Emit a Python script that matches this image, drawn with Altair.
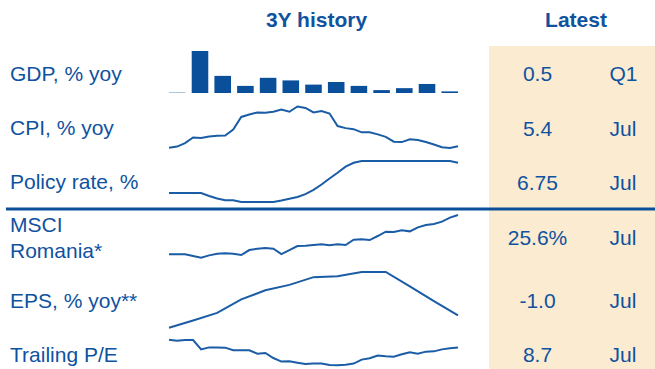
import altair as alt
import pandas as pd

# ---------------- data ----------------
HEADERS = ["3Y history", "Latest"]
ROW_LABELS = ["GDP, % yoy", "CPI, % yoy", "Policy rate, %", "MSCI\nRomania*",
              "EPS, % yoy**", "Trailing P/E"]
LATEST_VALUES = ["0.5", "5.4", "6.75", "25.6%", "-1.0", "8.7"]
LATEST_PERIODS = ["Q1", "Jul", "Jul", "Jul", "Jul", "Jul"]

GDP_QUARTERS = ["Q1 21", "Q2 21", "Q3 21", "Q4 21", "Q1 22", "Q2 22", "Q3 22",
                "Q4 22", "Q1 23", "Q2 23", "Q3 23", "Q4 23", "Q1 24"]
GDP_YOY = [0.1, 13.0, 5.3, 2.2, 4.7, 3.9, 2.6, 3.4, 2.2, 0.9, 1.5, 2.8, 0.5]

MONTHS = [str(p) for p in pd.period_range("2021-07", "2024-07", freq="M")]

CPI_YOY = [5.0, 5.3, 6.3, 7.9, 7.8, 8.2, 8.4, 8.5, 10.2, 13.8, 14.5, 15.1, 15.0,
           15.3, 15.9, 15.3, 16.8, 16.4, 15.1, 15.5, 14.8, 11.2, 10.6, 10.3, 9.4,
           9.4, 8.8, 8.1, 6.7, 6.6, 7.4, 7.2, 6.6, 5.9, 5.1, 4.9, 5.4]

POLICY_RATE = [2.5, 2.5, 2.5, 2.5, 2.5, 2.1, 1.75, 1.5, 1.5, 1.25, 1.25, 1.25,
               1.25, 1.25, 1.45, 1.7, 1.95, 2.35, 2.95, 3.7, 4.55, 5.35, 6.2,
               6.75, 7.0, 7.0, 7.0, 7.0, 7.0, 7.0, 7.0, 7.0, 7.0, 7.0, 7.0, 7.0,
               6.75]

MSCI_INDEX = [52, 52, 52, 47, 42, 49, 54, 55, 54, 50, 65, 69, 71, 69, 53, 65, 77,
              78, 80, 82, 79, 82, 80, 96, 97, 95, 107, 120, 119, 124, 121, 133,
              140, 143, 150, 162, 170]

EPS_QUARTERS = MONTHS[::3]
EPS_YOY = [-5.3, -2.8, -0.1, 4.6, 7.8, 9.7, 12.4, 12.7, 14.2, 14.2, 9.2, 4.0, -1.0]

TRAILING_PE = [9.28, 9.2, 9.25, 9.25, 8.55, 8.7, 8.7, 8.68, 8.48, 8.48, 8.48,
               8.23, 8.28, 7.9, 7.63, 7.65, 7.55, 7.45, 7.48, 7.48, 7.38, 7.35,
               7.4, 7.48, 7.78, 7.88, 8.08, 8.03, 8.0, 8.18, 8.33, 8.23, 8.38,
               8.4, 8.55, 8.63, 8.7]

# ---------------- styling / layout ----------------
BLUE_TEXT = "#0F52A0"
BLUE_LINE = "#1A5CA6"
BLUE_BAR = "#0A4F9A"
BEIGE = "#FAEBD1"
FONT = "Liberation Sans"
FS = 21

SPARK_X = [169, 458]

one = pd.DataFrame({"k": [0]})

layers = []

# beige "Latest" panel
layers.append(
    alt.Chart(one).mark_rect(color=BEIGE).encode(
        x=alt.value(489), x2=alt.value(655), y=alt.value(46), y2=alt.value(369)
    )
)

# divider line
layers.append(
    alt.Chart(one).mark_rule(color="#0A4F9A", strokeWidth=3).encode(
        x=alt.value(6), x2=alt.value(655), y=alt.value(209)
    )
)

# headers
for txt, xpos in zip(HEADERS, [316.5, 576]):
    layers.append(
        alt.Chart(pd.DataFrame({"t": [txt]})).mark_text(
            font=FONT, fontSize=FS, fontWeight="bold", color=BLUE_TEXT,
            align="center", baseline="alphabetic"
        ).encode(x=alt.value(xpos), y=alt.value(27), text="t:N")
    )

rows = pd.DataFrame({
    "row": list(range(len(ROW_LABELS))),
    "label": ROW_LABELS,
    "value": LATEST_VALUES,
    "period": LATEST_PERIODS,
})
row_dom = list(range(len(ROW_LABELS)))

# row labels
layers.append(
    alt.Chart(rows).mark_text(
        font=FONT, fontSize=FS, color=BLUE_TEXT, align="left",
        baseline="alphabetic", lineBreak="\n", lineHeight=26
    ).encode(
        x=alt.value(10),
        y=alt.Y("row:Q", axis=None,
                scale=alt.Scale(domain=row_dom, range=[81, 135, 189, 232, 308, 362],
                                zero=False, nice=False)),
        text="label:N",
    )
)

# latest values
layers.append(
    alt.Chart(rows).mark_text(
        font=FONT, fontSize=FS, color=BLUE_TEXT, align="center", baseline="alphabetic"
    ).encode(
        x=alt.value(537.5),
        y=alt.Y("row:Q", axis=None,
                scale=alt.Scale(domain=row_dom, range=[81, 135.5, 190, 245, 308, 362],
                                zero=False, nice=False)),
        text="value:N",
    )
)

# latest periods
layers.append(
    alt.Chart(rows).mark_text(
        font=FONT, fontSize=FS, color=BLUE_TEXT, align="left", baseline="alphabetic"
    ).encode(
        x=alt.value(609.5),
        y=alt.Y("row:Q", axis=None,
                scale=alt.Scale(domain=row_dom, range=[81, 135.5, 190, 245, 308, 362],
                                zero=False, nice=False)),
        text="period:N",
    )
)

# GDP bars
gdp = pd.DataFrame({"q": GDP_QUARTERS, "v": GDP_YOY})
layers.append(
    alt.Chart(gdp).mark_bar(color=BLUE_BAR).encode(
        x=alt.X("q:O", axis=None, sort=None,
                scale=alt.Scale(domain=GDP_QUARTERS, range=SPARK_X,
                                paddingInner=0.27, paddingOuter=0)),
        y=alt.Y("v:Q", axis=None,
                scale=alt.Scale(domain=[0, 13.0], range=[93, 51], nice=False)),
    )
)


def spark(months, values, dom, yrange):
    df = pd.DataFrame({"m": months, "v": values})
    return alt.Chart(df).mark_line(color=BLUE_LINE, strokeWidth=2).encode(
        x=alt.X("m:O", axis=None, sort=None,
                scale=alt.Scale(type="point", domain=months, range=SPARK_X, padding=0)),
        y=alt.Y("v:Q", axis=None,
                scale=alt.Scale(domain=dom, range=yrange, zero=False, nice=False)),
    )


layers.append(spark(MONTHS, CPI_YOY, [4.9, 16.8], [148, 106.5]))
layers.append(spark(MONTHS, POLICY_RATE, [1.25, 7.0], [202, 161]))
layers.append(spark(MONTHS, MSCI_INDEX, [42, 170], [257.7, 215]))
layers.append(spark(EPS_QUARTERS, EPS_YOY, [-5.3, 14.2], [327.7, 272]))
layers.append(spark(MONTHS, TRAILING_PE, [7.35, 9.28], [365.3, 339.7]))

chart = alt.layer(*layers).resolve_scale(
    x="independent", y="independent"
).properties(
    width=655, height=369, padding=0,
    autosize=alt.AutoSizeParams(type="none"),
    background="white",
).configure_view(stroke=None)

chart.save("out.html", embed_options={"renderer": "svg", "actions": False})
